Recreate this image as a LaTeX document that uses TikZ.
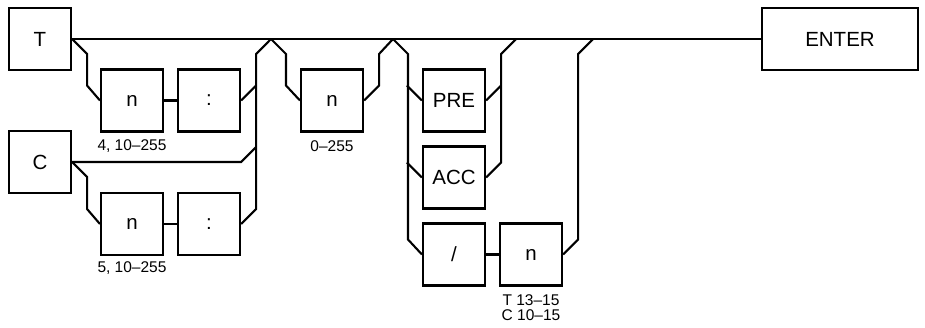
\documentclass[tikz,border=0pt]{standalone}
\usepackage{fontspec}
\setmainfont{Liberation Sans}
\usepackage{tikz}
\usetikzlibrary{positioning}
\definecolor{lineaNegra}{RGB}{0, 0, 0}

\tikzset{
  cajaSint/.style={draw=lineaNegra, line width=2.1pt, minimum width=62pt, minimum height=62pt,
    inner sep=0pt, font=\fontsize{20.5}{24}\selectfont},
  rangoTxt/.style={font=\fontsize{15.5}{15}\selectfont, inner sep=0pt, align=center},
  via/.style={draw=lineaNegra, line width=2.1pt}
}

\begin{document}
\begin{tikzpicture}[x=1pt, y=-1pt]
        \useasboundingbox (0,0) rectangle (925,327);
        % cajas
        \node[cajaSint] (T) at (40,39) {T};
        \node[cajaSint] (C) at (40,162) {C};
        \node[cajaSint] (nT) at (132,100.5) {n};
        \node[cajaSint] (dpT) at (209,100.5) {:};
        \node[cajaSint] (nC) at (132,224) {n};
        \node[cajaSint] (dpC) at (209,224) {:};
        \node[cajaSint] (nM) at (332,100.5) {n};
        \node[cajaSint] (PRE) at (454,100.5) {PRE};
        \node[cajaSint] (ACC) at (454,177.5) {ACC};
        \node[cajaSint] (barra) at (454,254.5) {/};
        \node[cajaSint] (nB) at (531,254.5) {n};
        \node[cajaSint, minimum width=156pt] (ENTER) at (840,39) {ENTER};
        % rangos
        \node[rangoTxt] (rT) at (132,146) {4, 10–255};
        \node[rangoTxt] (rC) at (132,268) {5, 10–255};
        \node[rangoTxt] (rM) at (332,146) {0–255};
        \node[rangoTxt] (rB) at (531,307.5) {T 13–15\\C 10–15};
        % puntos de union
        \coordinate (pk1) at (271,39);
        \coordinate (pk2) at (393,39);
        % vias
        \draw[via] (T.east) -- (ENTER.west);
        \draw[via] (T.east) -- ++(15,15) -- ++(0,31.5) -- (nT.west);
        \draw[via] (nT.east) -- (dpT.west);
        \draw[via] (dpT.east) -- ++(15,-15);
        \draw[via] (C.east) -- (C.east -| dpT.east) -- ++(15,-15);
        \draw[via] (C.east) -- ++(15,15) -- ++(0,32) -- (nC.west);
        \draw[via] (nC.east) -- (dpC.west);
        \draw[via] (dpC.east) -- ++(15,-15) -- ++(0,-155) -- (pk1);
        \draw[via] (pk1) -- ++(15,15) -- ++(0,31.5) -- (nM.west);
        \draw[via] (nM.east) -- ++(15,-15) -- ++(0,-31.5) -- (pk2);
        \draw[via] (pk2) -- ++(15,15) -- ++(0,185.5) -- (barra.west);
        \draw[via] (PRE.west) -- ++(-15,-15);
        \draw[via] (ACC.west) -- ++(-15,-15);
        \draw[via] (PRE.east) -- ++(15,-15);
        \draw[via] (ACC.east) -- ++(15,-15) -- ++(0,-108.5) -- ++(15,-15);
        \draw[via] (barra.east) -- (nB.west);
        \draw[via] (nB.east) -- ++(15,-15) -- ++(0,-185.5) -- ++(15,-15);
    \end{tikzpicture}
\end{document}
